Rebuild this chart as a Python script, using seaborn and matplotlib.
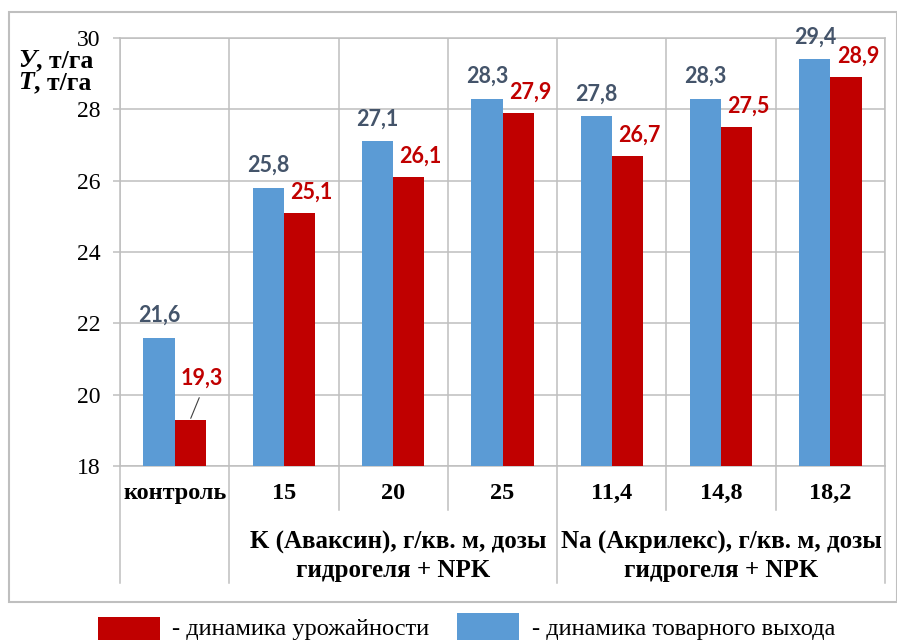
import matplotlib
matplotlib.use("Agg")
import matplotlib.pyplot as plt
import matplotlib.patches as mpatches
import numpy as np
import pandas as pd
import seaborn as sns

# Data
categories = ["контроль", "15", "20", "25", "11,4", "14,8", "18,2"]
output_vals = [21.6, 25.8, 27.1, 28.3, 27.8, 28.3, 29.4]   # товарный выход
yield_vals = [19.3, 25.1, 26.1, 27.9, 26.7, 27.5, 28.9]    # урожайность
series_names = ["динамика товарного выхода", "динамика урожайности"]
group_lines = [("K (Аваксин), г/кв. м, дозы", "гидрогеля + NPK"),
               ("Na (Акрилекс), г/кв. м, дозы", "гидрогеля + NPK")]
yticks = [18, 20, 22, 24, 26, 28, 30]

BLUE = "#5B9BD5"
RED = "#C00000"
BLUE_TXT = "#44546A"
GRID = "#BFBFBF"
SERIF = ["Liberation Serif", "DejaVu Serif"]
SANS = ["Lato", "DejaVu Sans"]

df = pd.DataFrame({
    "cat": categories * 2,
    "value": output_vals + yield_vals,
    "series": [series_names[0]] * len(categories) + [series_names[1]] * len(categories),
})

W, H = 897, 640
fig = plt.figure(figsize=(W / 100, H / 100), dpi=100)
ax = fig.add_axes([120 / W, 1 - 466 / H, (885 - 120) / W, (466 - 38) / H])

sns.barplot(data=df, x="cat", y="value", hue="series", order=categories,
            hue_order=series_names, palette=[BLUE, RED], width=0.57,
            saturation=1, legend=False, ax=ax, zorder=3)

ax.set_ylim(18, 30)
ax.set_xlim(-0.5, len(categories) - 0.5)
ax.set_xlabel("")
ax.set_ylabel("")

# grid: horizontal at y ticks, vertical at category borders
ax.set_yticks(yticks)
ax.set_yticklabels([str(v) for v in yticks], family=SERIF, fontsize=17)
ax.set_xticks(np.arange(-0.5, len(categories), 1), minor=True)
ax.set_xticks(range(len(categories)))
ax.set_xticklabels(categories, family=SERIF, fontsize=17.5, fontweight="bold")
ax.grid(axis="y", which="major", color=GRID, lw=1.1, zorder=0)
ax.grid(axis="x", which="minor", color=GRID, lw=1.1, zorder=0)
ax.set_axisbelow(True)
ax.tick_params(axis="x", which="both", length=0, pad=12)
ax.tick_params(axis="y", length=5, color=GRID, width=1.1, pad=9)
for s in ax.spines.values():
    s.set_color(GRID)
    s.set_linewidth(1.1)

# table-style separators below the axis
tr = ax.get_xaxis_transform()
for xb in [-0.5, 0.5, 3.5, 6.5]:
    ax.plot([xb, xb], [0, -0.273], color=GRID, lw=1.1, transform=tr, clip_on=False)
for xb in [1.5, 2.5, 4.5, 5.5]:
    ax.plot([xb, xb], [0, -0.103], color=GRID, lw=1.1, transform=tr, clip_on=False)

# group captions under the dose columns
for gx, shift, (l1, l2) in zip([2.0, 5.0], [0.05, 0.0], group_lines):
    ax.text(gx + shift, -0.178, l1, transform=tr, ha="center", va="center",
            family=SERIF, fontsize=18, fontweight="bold")
    ax.text(gx, -0.243, l2, transform=tr, ha="center", va="center",
            family=SERIF, fontsize=18, fontweight="bold")

# value labels
blue_bars, red_bars = ax.containers[0], ax.containers[1]
for bar, v in zip(blue_bars, output_vals):
    ax.annotate(f"{v:.1f}".replace(".", ","),
                xy=(bar.get_x() + bar.get_width() / 2, v),
                xytext=(0, 16), textcoords="offset points",
                ha="center", va="center", family=SANS, fontweight="bold",
                fontsize=15.5, color=BLUE_TXT, annotation_clip=False)
for i, (bar, v) in enumerate(zip(red_bars, yield_vals)):
    txt = f"{v:.1f}".replace(".", ",")
    xy = (bar.get_x() + bar.get_width() / 2, v)
    if i == 0:
        # short bar: label lifted with a leader line
        ax.annotate(txt, xy=xy, xytext=(8, 30), textcoords="offset points",
                    ha="center", va="center", family=SANS, fontweight="bold",
                    fontsize=15.5, color=RED,
                    arrowprops=dict(arrowstyle="-", color="#404040", lw=0.8,
                                    relpos=(0.54, 0.0), shrinkA=5, shrinkB=1))
    else:
        ax.annotate(txt, xy=xy, xytext=(8.6, 15), textcoords="offset points",
                    ha="center", va="center", family=SANS, fontweight="bold",
                    fontsize=15.5, color=RED, annotation_clip=False)

# y-axis caption
t1 = fig.text(18 / W, 1 - 67 / H, "У", family=SERIF, fontsize=18.5,
              fontweight="bold", fontstyle="italic", ha="left", va="baseline")
ax.annotate(", т/га", xy=(1, 0), xycoords=t1, xytext=(0, 0), textcoords="offset points",
            family=SERIF, fontsize=18.5, fontweight="bold", ha="left", va="bottom")
t2 = fig.text(18 / W, 1 - 89 / H, "Т", family=SERIF, fontsize=18.5,
              fontweight="bold", fontstyle="italic", ha="left", va="baseline")
ax.annotate(", т/га", xy=(1, 0), xycoords=t2, xytext=(0, 0), textcoords="offset points",
            family=SERIF, fontsize=18.5, fontweight="bold", ha="left", va="bottom")

# outer frame
fig.patches.append(mpatches.Rectangle((9 / W, 1 - 602 / H), (896.5 - 9) / W, (602 - 12) / H,
                                      transform=fig.transFigure, fill=False,
                                      edgecolor=GRID, lw=1.5))

# legend
fig.patches.append(mpatches.Rectangle((98 / W, 0), 62 / W, 1 - 617 / H,
                                      transform=fig.transFigure, facecolor=RED, lw=0))
fig.text(172 / W, 1 - 635 / H, "- " + series_names[1], family=SERIF, fontsize=17.6,
         ha="left", va="baseline")
fig.patches.append(mpatches.Rectangle((457 / W, 0), 62 / W, 1 - 613 / H,
                                      transform=fig.transFigure, facecolor=BLUE, lw=0))
fig.text(532 / W, 1 - 635 / H, "- " + series_names[0], family=SERIF, fontsize=17.6,
         ha="left", va="baseline")

fig.savefig("out.png", dpi=100)
